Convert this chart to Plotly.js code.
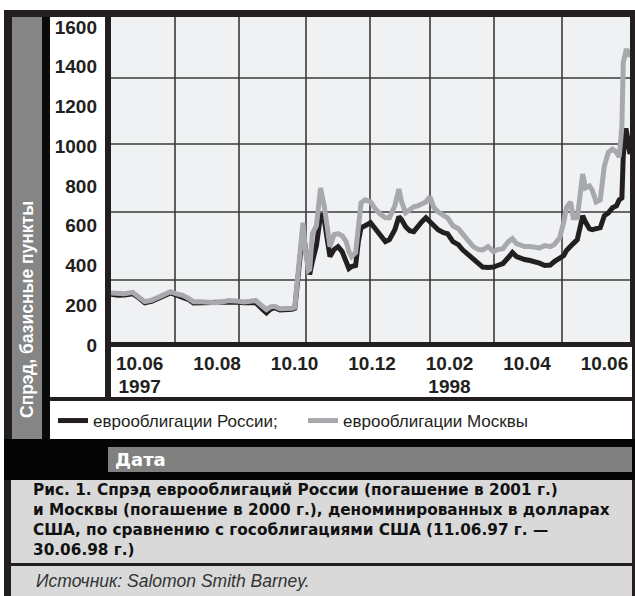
<!DOCTYPE html>
<html>
<head>
<meta charset="utf-8">
<script src="https://cdn.plot.ly/plotly-3.0.1.min.js"></script>
<style>
html,body{margin:0;padding:0;background:#fff;}
#chart{width:635px;height:596px;}
</style>
</head>
<body>
<div id="chart"></div>
<script>
// ---- data ----
const dates = [
'1997-06-11','1997-06-16','1997-06-21','1997-06-27','1997-07-02','1997-07-06','1997-07-11','1997-07-15','1997-07-19','1997-07-25',
'1997-07-29','1997-08-03','1997-08-07','1997-08-11','1997-08-17','1997-08-22','1997-08-27','1997-09-01','1997-09-06','1997-09-11',
'1997-09-17','1997-09-22','1997-09-26','1997-10-01','1997-10-04','1997-10-07','1997-10-10','1997-10-14','1997-10-18','1997-10-23',
'1997-10-25','1997-10-27','1997-10-30','1997-10-31','1997-11-02','1997-11-03','1997-11-04','1997-11-05','1997-11-07','1997-11-10',
'1997-11-12','1997-11-13','1997-11-16','1997-11-18','1997-11-20','1997-11-23','1997-11-26','1997-11-29','1997-12-02','1997-12-04',
'1997-12-06','1997-12-09','1997-12-11','1997-12-13','1997-12-16','1997-12-20','1997-12-23','1997-12-27','1997-12-31','1998-01-03',
'1998-01-07','1998-01-10','1998-01-12','1998-01-15','1998-01-18','1998-01-21','1998-01-24','1998-01-27','1998-01-30','1998-02-02',
'1998-02-05','1998-02-08','1998-02-12','1998-02-15','1998-02-19','1998-02-23','1998-02-26','1998-03-02','1998-03-06','1998-03-10',
'1998-03-13','1998-03-17','1998-03-21','1998-03-24','1998-03-28','1998-04-01','1998-04-04','1998-04-07','1998-04-10','1998-04-13',
'1998-04-17','1998-04-21','1998-04-24','1998-04-28','1998-05-02','1998-05-05','1998-05-09','1998-05-12','1998-05-14','1998-05-17',
'1998-05-19','1998-05-22','1998-05-24','1998-05-26','1998-05-28','1998-05-31','1998-06-02','1998-06-05','1998-06-08','1998-06-11',
'1998-06-14','1998-06-17','1998-06-20','1998-06-22','1998-06-24','1998-06-25','1998-06-27','1998-06-28','1998-06-30'
];
const moscow = [
262,258,258,265,240,218,225,238,252,268,
258,250,236,218,218,215,213,216,224,222,
216,220,224,195,178,192,195,182,182,185,
190,330,520,615,470,430,375,380,560,600,
740,790,690,580,495,555,560,550,520,470,
445,465,620,715,730,720,690,660,640,640,
700,785,720,665,680,695,700,710,720,745,
690,670,655,640,600,585,560,530,495,480,
478,495,470,480,485,520,535,510,500,495,
495,490,488,500,495,505,540,620,690,720,
640,640,780,860,790,800,780,720,730,900,
970,985,970,945,1100,1420,1480,1480,1450
];
const russia = [
255,250,252,258,235,212,220,232,246,262,
252,243,230,212,213,215,212,212,218,216,
212,212,214,180,162,180,188,176,176,180,
185,300,470,580,480,440,400,355,420,500,
600,660,620,520,445,480,495,470,420,385,
395,400,520,590,600,615,590,550,520,530,
580,645,630,595,575,570,600,620,640,620,
600,580,565,560,520,505,480,455,430,410,
392,390,392,400,410,440,465,445,435,430,
425,420,412,400,402,420,435,450,475,500,
510,530,600,650,620,585,580,585,590,650,
665,690,700,730,740,950,1090,1050,960
];
const seriesNames = ['еврооблигации России;', 'еврооблигации Москвы'];
const yTicks = [0, 200, 400, 600, 800, 1000, 1200, 1400, 1600];
const monthLabels = ['10.06', '10.08', '10.10', '10.12', '10.02', '10.04', '10.06'];
const monthIdx = [0, 1, 2, 3, 4, 5, 6];
const yearLabels = ['1997', '1998'];
const yearIdx = [0, 4];
const yTitle = 'Спрэд, базисные пункты';
const xTitle = 'Дата';
const caption = 'Рис. 1. Спрэд еврооблигаций России (погашение в 2001 г.)<br>и Москвы (погашение в 2000 г.), деноминированных в долларах<br>США, по сравнению с гособлигациями США (11.06.97 г. —<br>30.06.98 г.)';
const source = 'Источник: Salomon Smith Barney.';

// ---- layout geometry (pixels -> paper) ----
const L = 111, R = 630, T = 17, B = 347, W = 635, H = 596;
const px = x => (x - L) / (R - L);
const py = y => (B - y) / (B - T);
const DARK = '#231f20';
const FONT = 'Liberation Sans, Arial, sans-serif';
const WIDE = 'DejaVu Sans, Liberation Sans, sans-serif';

function rect(x0, y0, x1, y1, color, layer) {
  return {type: 'rect', xref: 'paper', yref: 'paper', x0: px(x0), x1: px(x1), y0: py(y1), y1: py(y0),
          fillcolor: color, line: {width: 0}, layer: layer || 'below'};
}
function hline(y, x0, x1) {
  return {type: 'line', xref: 'paper', yref: 'paper', x0: px(x0), x1: px(x1), y0: py(y), y1: py(y),
          line: {color: '#3a3a3a', width: 1.6}, layer: 'below'};
}
function vline(x, y0, y1) {
  return {type: 'line', xref: 'paper', yref: 'paper', x0: px(x), x1: px(x), y0: py(y1), y1: py(y0),
          line: {color: '#3a3a3a', width: 1.6}, layer: 'below'};
}

const shapes = [
  rect(4, 10, 635, 596, DARK),
  rect(12, 17, 42, 439, '#858585'),
  rect(42, 17, 50, 439, '#0a0a0a'),
  rect(50, 17, 105, 397, '#ffffff'),
  rect(111, 17, 630, 342, '#f0f1f3'),
  rect(111, 347, 632, 397, '#ffffff'),
  rect(50, 401, 632, 439, '#ffffff'),
  rect(4, 439, 635, 480, '#050505'),
  rect(108, 447, 632, 472, '#808080'),
  rect(11, 480, 632, 563, '#d9d9d9'),
  rect(11, 566, 632, 596, '#d9d9d9'),
];
[78, 144, 212, 280].forEach(y => shapes.push(hline(y, 111, 630)));
[175, 239, 306, 370, 430, 494, 562].forEach(x => shapes.push(vline(x, 17, 342)));
shapes.push(rect(105, 342, 632, 347, DARK, 'above'));
shapes.push(rect(630, 10, 635, 347, DARK, 'above'));

const traces = [
  {x: dates, y: russia, name: seriesNames[0], type: 'scatter', mode: 'lines',
   line: {color: DARK, width: 5}, hoverinfo: 'x+y'},
  {x: dates, y: moscow, name: seriesNames[1], type: 'scatter', mode: 'lines',
   line: {color: '#a7a9ac', width: 5}, hoverinfo: 'x+y'},
  {x: monthIdx, y: monthIdx.map(() => null), xaxis: 'x2', yaxis: 'y', showlegend: false,
   hoverinfo: 'skip', mode: 'lines'},
  {x: yearIdx, y: yearIdx.map(() => null), xaxis: 'x3', yaxis: 'y', showlegend: false,
   hoverinfo: 'skip', mode: 'lines'}
];

const tickFont = {family: FONT, size: 19, color: DARK, weight: 'bold'};

const layout = {
  width: W, height: H,
  margin: {l: L, r: W - R, t: T, b: H - B, pad: 0},
  paper_bgcolor: '#ffffff',
  plot_bgcolor: 'rgba(0,0,0,0)',
  showlegend: true,
  legend: {orientation: 'h', x: px(53), xanchor: 'left', y: py(403), yanchor: 'top',
           bgcolor: 'rgba(0,0,0,0)', borderwidth: 0,
           font: {family: FONT, size: 17, color: DARK},
           entrywidth: 205, entrywidthmode: 'pixels', itemclick: false},
  xaxis: {type: 'date', range: [dates[0], dates[dates.length - 1]], showgrid: false, zeroline: false,
          showticklabels: false, showline: false, ticks: '', fixedrange: true},
  xaxis2: {overlaying: 'x', anchor: 'y', side: 'bottom', range: [-0.37, 6.33],
           tickvals: monthIdx, ticktext: monthLabels, showgrid: false, zeroline: false,
           showline: false, ticks: '', tickfont: tickFont, ticklabelstandoff: 3, fixedrange: true},
  xaxis3: {overlaying: 'x', anchor: 'y', side: 'bottom', range: [-0.37, 6.33],
           tickvals: yearIdx, ticktext: yearLabels, showgrid: false, zeroline: false,
           showline: false, ticks: '', tickfont: tickFont, ticklabelstandoff: 26, fixedrange: true},
  yaxis: {range: [-10, 1650], tickvals: yTicks, ticktext: yTicks.map(String), showgrid: false,
          zeroline: false, showline: false, ticks: '', tickfont: tickFont, ticklabelstandoff: 13,
          fixedrange: true},
  shapes: shapes,
  annotations: [
    {text: yTitle, xref: 'paper', yref: 'paper', x: px(27), y: py(310), textangle: -90,
     showarrow: false, xanchor: 'center', yanchor: 'middle',
     font: {family: FONT, size: 17.5, color: '#ffffff', weight: 'bold'}},
    {text: xTitle, xref: 'paper', yref: 'paper', x: px(113), y: py(460), showarrow: false,
     xanchor: 'left', yanchor: 'middle', font: {family: WIDE, size: 18, color: '#ffffff', weight: 'bold'}},
    {text: caption, xref: 'paper', yref: 'paper', x: px(31), y: py(520), showarrow: false,
     xanchor: 'left', yanchor: 'middle', align: 'left',
     font: {family: WIDE, size: 15.3, color: '#111111', weight: 'bold'}},
    {text: source, xref: 'paper', yref: 'paper', x: px(34), y: py(581), showarrow: false,
     xanchor: 'left', yanchor: 'middle', font: {family: FONT, size: 17.5, color: '#333333', style: 'italic'}}
  ]
};

Plotly.newPlot('chart', traces, layout, {displayModeBar: false, staticPlot: true});
</script>
</body>
</html>
